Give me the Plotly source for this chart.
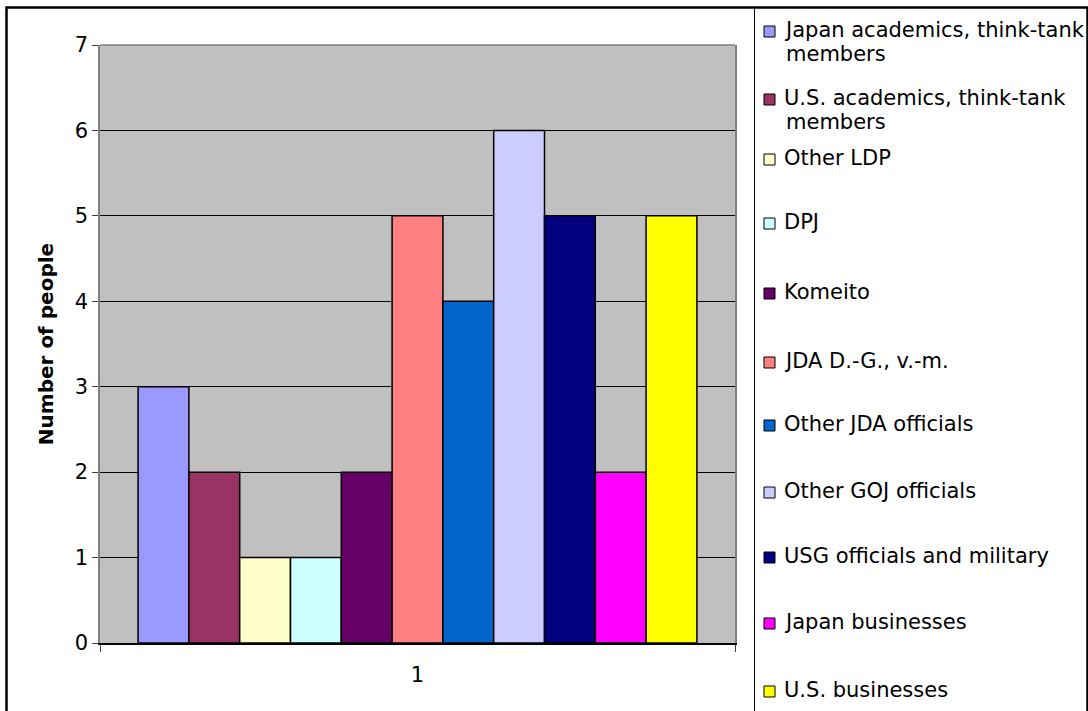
import textwrap
import plotly.graph_objects as go

# Series shown as side-by-side columns in the single category "1"
categories = ["1"]
series_names = [
    "Japan academics, think-tank members",
    "U.S. academics, think-tank members",
    "Other LDP",
    "DPJ",
    "Komeito",
    "JDA D.-G., v.-m.",
    "Other JDA officials",
    "Other GOJ officials",
    "USG officials and military",
    "Japan businesses",
    "U.S. businesses",
]
series_values = [3, 2, 1, 1, 2, 5, 4, 6, 5, 2, 5]
y_ticks = [0, 1, 2, 3, 4, 5, 6, 7]

# Classic spreadsheet palette, one colour per series
colors = [
    "#9999FF", "#993366", "#FFFFCC", "#CCFFFF", "#660066", "#FF8080",
    "#0066CC", "#CCCCFF", "#000080", "#FF00FF", "#FFFF00",
]

FONT = "DejaVu Sans"
FS = 21
W, H = 1088, 711
ML, MR, MT, MB = 100, 353, 45, 68
PW, PH = W - ML - MR, H - MT - MB


def px(x):
    return (x - ML) / PW


def py(y):
    return (H - MB - y) / PH


fig = go.Figure()
for name, val, col in zip(series_names, series_values, colors):
    fig.add_trace(go.Bar(
        x=categories, y=[val], name=name,
        marker=dict(color=col, line=dict(color="#000000", width=1.5)),
        showlegend=False,
    ))

shapes = []
annotations = []

# Outer chart frame
shapes.append(dict(type="rect", xref="paper", yref="paper",
                   x0=px(6.5), x1=px(1087.5), y0=py(720), y1=py(7.5),
                   line=dict(color="#000000", width=2.5), layer="above"))
# Legend box divider
shapes.append(dict(type="line", xref="paper", yref="paper",
                   x0=px(754.5), x1=px(754.5), y0=py(720), y1=py(7.5),
                   line=dict(color="#000000", width=1), layer="above"))
# Top edge of the plot area
shapes.append(dict(type="line", xref="x domain", yref="y domain",
                   x0=0, x1=1, y0=1, y1=1,
                   line=dict(color="#808080", width=1.5), layer="above"))

# Hand-laid legend: swatch + wrapped label per series
legend_rows = [30, 98, 158, 222, 292, 361, 424, 491, 556, 622, 690]
line_step = 24
for name, col, row in zip(series_names, colors, legend_rows):
    lines = textwrap.wrap(name, width=27)
    shapes.append(dict(type="rect", xref="paper", yref="paper",
                       x0=px(764), x1=px(775), y0=py(row + 7), y1=py(row - 4),
                       fillcolor=col, line=dict(color="#000000", width=1),
                       layer="above"))
    for i, ln in enumerate(lines):
        annotations.append(dict(
            xref="paper", yref="paper", x=px(782 if i == 0 else 784),
            y=py(row + i * line_step), text=ln, showarrow=False,
            xanchor="left", yanchor="middle",
            font=dict(family=FONT, size=FS, color="#000000"),
        ))

fig.update_layout(
    width=W, height=H,
    margin=dict(l=ML, r=MR, t=MT, b=MB, autoexpand=False),
    paper_bgcolor="#FFFFFF",
    plot_bgcolor="#C0C0C0",
    barmode="group",
    bargap=0.12,
    bargroupgap=0,
    font=dict(family=FONT, size=FS, color="#000000"),
    shapes=shapes,
    annotations=annotations,
    xaxis=dict(
        type="category", tickson="boundaries",
        ticks="outside", ticklen=7, tickcolor="#404040", tickwidth=1,
        ticklabelstandoff=12,
        showline=True, linecolor="#000000", linewidth=2,
        showgrid=False, zeroline=False,
        tickfont=dict(family=FONT, size=FS, color="#000000"),
        automargin=False,
    ),
    yaxis=dict(
        range=[0, 7], tickvals=y_ticks,
        ticks="outside", ticklen=6, tickcolor="#404040", tickwidth=1,
        showline=True, linecolor="#808080", linewidth=1.5, mirror=True,
        showgrid=True, gridcolor="#000000", gridwidth=1,
        zeroline=False,
        tickfont=dict(family=FONT, size=FS, color="#000000"),
        title=dict(text="<b>Number of people</b>", standoff=16,
                   font=dict(family=FONT, size=20, color="#000000")),
        automargin=False,
    ),
)

fig.write_html("out.html")
